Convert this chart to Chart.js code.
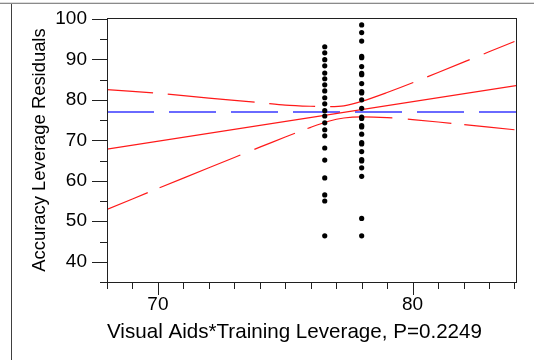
<!DOCTYPE html>
<html>
<head>
<meta charset="utf-8">
<script src="https://cdn.jsdelivr.net/npm/chart.js@4.4.1/dist/chart.umd.min.js"></script>
<style>
  html, body { margin: 0; padding: 0; background: #fff; }
  canvas { display: block; }
</style>
</head>
<body>
<canvas id="c" width="534" height="360"></canvas>
<script>
// Leverage residuals at the two observed x-leverage values
const leftColumnX = 76.55;
const rightColumnX = 78.0;
const leftColumnResiduals = [93.1, 91.6, 89.9, 88.4, 86.6, 85.2, 83.7, 82.2, 80.5, 79.0, 77.3, 76.0, 74.3, 72.6, 71.1, 68.1, 65.1, 60.7, 56.5, 55.0, 46.4];
const rightColumnResiduals = [98.5, 96.6, 94.5, 90.7, 90.4, 88.2, 86.2, 86.5, 84.0, 82.0, 81.7, 80.0, 77.9, 75.7, 75.4, 73.6, 73.3, 71.5, 69.4, 69.1, 67.2, 65.2, 64.9, 63.2, 61.1, 50.7, 46.4];

// Fitted line, mean line and confidence curves
const fitX = [68, 84.06];
const fitY = [67.8, 83.5];
const meanResidual = 77.0;
const bandX = [68, 70, 72, 74, 75, 76, 76.7, 77.3, 78, 79, 80, 82, 84];
const bandUpper = [82.5, 81.6, 80.4, 79.3, 78.7, 78.4, 78.3, 78.5, 79.6, 81.8, 84.2, 89.3, 94.4];
const bandLower = [52.9, 58.1, 63.2, 68.3, 70.8, 73.2, 74.7, 75.5, 75.8, 75.6, 75.1, 73.9, 72.6];

// Axis labels
const xTickLabels = [70, 80];
const yTickLabels = [40, 50, 60, 70, 80, 90, 100];
const xRange = [68, 84.06];
const yRange = [35, 100.2];

const FONT = "'Liberation Sans', Arial, sans-serif";

const pointsOf = (x, ys) => ys.map(v => ({ x: x, y: v }));
const zip = (xs, ys) => xs.map((v, i) => ({ x: v, y: ys[i] }));

// Plot frame, minor/major tick marks and the report outline
const framePlugin = {
  id: 'frame',
  beforeDraw(chart) {
    const ctx = chart.ctx;
    ctx.save();
    ctx.fillStyle = '#ffffff';
    ctx.fillRect(0, 0, chart.width, chart.height);
    ctx.fillStyle = '#dcdcdc';
    ctx.fillRect(0, 2, chart.width, 1);
    ctx.fillStyle = '#8a8a8a';
    ctx.fillRect(0, 3, chart.width, 1);
    ctx.fillStyle = '#404040';
    ctx.fillRect(11, 4, 1, chart.height - 4);
    ctx.restore();
  },
  afterDatasetsDraw(chart) {
    const { ctx, chartArea: a, scales: { x, y } } = chart;
    const L = Math.round(a.left), R = Math.round(a.right), T = Math.round(a.top), B = Math.round(a.bottom);
    ctx.save();
    ctx.fillStyle = '#202020';
    ctx.fillRect(L, T, R - L + 1, 1);
    ctx.fillRect(L, B, R - L + 1, 1);
    ctx.fillRect(L, T, 1, B - T + 1);
    ctx.fillRect(R, T, 1, B - T + 1);
    for (let v = 35; v <= 100; v += 5) {
      const py = Math.round(y.getPixelForValue(v));
      const len = v % 10 === 0 ? 15 : 7;
      ctx.fillRect(L - len, py, len, 1);
    }
    for (let v = 68; v <= 84; v += 1) {
      const px = Math.round(x.getPixelForValue(v));
      const len = v % 10 === 0 ? 13 : 7;
      ctx.fillRect(px, B, 1, len);
    }
    ctx.restore();
  }
};

new Chart(document.getElementById('c'), {
  type: 'scatter',
  data: {
    datasets: [
      {
        label: 'Residuals (left)',
        data: pointsOf(leftColumnX, leftColumnResiduals),
        pointRadius: 2.6,
        pointBackgroundColor: '#000',
        pointBorderWidth: 0,
        showLine: false
      },
      {
        label: 'Residuals (right)',
        data: pointsOf(rightColumnX, rightColumnResiduals),
        pointRadius: 2.6,
        pointBackgroundColor: '#000',
        pointBorderWidth: 0,
        showLine: false
      },
      {
        label: 'Fit',
        data: zip(fitX, fitY),
        showLine: true,
        pointRadius: 0,
        borderColor: '#ff1a1a',
        borderWidth: 1.2
      },
      {
        label: 'Upper confidence',
        data: zip(bandX, bandUpper),
        showLine: true,
        pointRadius: 0,
        borderColor: '#ff1a1a',
        borderWidth: 1.2,
        borderDash: [46, 15, 87, 15],
        tension: 0.3
      },
      {
        label: 'Lower confidence',
        data: zip(bandX, bandLower),
        showLine: true,
        pointRadius: 0,
        borderColor: '#ff1a1a',
        borderWidth: 1.2,
        borderDash: [44, 13, 87, 15],
        tension: 0.3
      },
      {
        label: 'Mean',
        data: zip(xRange, [meanResidual, meanResidual]),
        showLine: true,
        pointRadius: 0,
        borderColor: '#3a3aff',
        borderWidth: 1.5,
        borderDash: [47, 15]
      }
    ]
  },
  options: {
    responsive: false,
    animation: false,
    devicePixelRatio: 1,
    layout: { padding: { top: 18, right: 18, left: 0, bottom: 0 } },
    plugins: { legend: { display: false }, tooltip: { enabled: false } },
    scales: {
      x: {
        type: 'linear',
        min: xRange[0],
        max: xRange[1],
        afterBuildTicks: s => { s.ticks = xTickLabels.map(v => ({ value: v })); },
        afterFit: s => { s.height = 78; s.paddingLeft = 0; s.paddingRight = 0; },
        grid: { display: false, drawTicks: false },
        border: { display: false },
        ticks: { font: { family: FONT, size: 19 }, color: '#000', padding: 11, maxRotation: 0 },
        title: {
          display: true,
          text: 'Visual Aids*Training Leverage, P=0.2249',
          align: 'start',
          color: '#000',
          font: { family: FONT, size: 20.6 },
          padding: { top: 0, bottom: 15 }
        }
      },
      y: {
        type: 'linear',
        min: yRange[0],
        max: yRange[1],
        afterBuildTicks: s => { s.ticks = yTickLabels.map(v => ({ value: v })); },
        afterFit: s => { s.width = 107; s.paddingTop = 0; s.paddingBottom = 0; },
        grid: { display: false, drawTicks: false },
        border: { display: false },
        ticks: { font: { family: FONT, size: 19 }, color: '#000', padding: 20 },
        title: {
          display: true,
          text: 'Accuracy Leverage Residuals',
          color: '#000',
          font: { family: FONT, size: 18.4 },
          padding: { top: 29, bottom: 0 }
        }
      }
    }
  },
  plugins: [framePlugin]
});
</script>
</body>
</html>
